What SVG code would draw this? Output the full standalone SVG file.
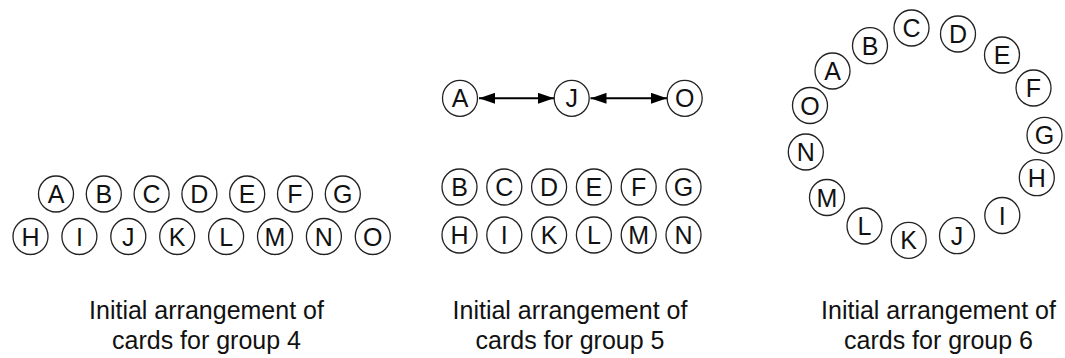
<svg xmlns="http://www.w3.org/2000/svg" width="1065" height="358" viewBox="0 0 1065 358">
<style>
.card ellipse{fill:#fff;stroke:#222;stroke-width:1.3}
.card text{font-family:"Liberation Sans",Arial,sans-serif;font-size:25px;fill:#111;text-anchor:middle}
.cap{font-family:"Liberation Sans",Arial,sans-serif;font-size:25px;fill:#111;text-anchor:middle}
.conn{stroke:#000;stroke-width:2;fill:none}
</style>
<defs>
<marker id="ah" viewBox="0 0 16 11" refX="16" refY="5.5" markerWidth="16" markerHeight="11" markerUnits="userSpaceOnUse" orient="auto-start-reverse">
<path d="M0,0 L16,5.5 L0,11 Z" fill="#000"/>
</marker>
</defs>
<rect width="1065" height="358" fill="#fff"/>

<!-- group 4 -->
<g id="g4">
<g id="g4-A" class="card" transform="translate(56,194)"><ellipse rx="17.5" ry="18"/><text y="9">A</text></g>
<g id="g4-B" class="card" transform="translate(103.8,194)"><ellipse rx="17.5" ry="18"/><text y="9">B</text></g>
<g id="g4-C" class="card" transform="translate(151.6,194)"><ellipse rx="17.5" ry="18"/><text y="9">C</text></g>
<g id="g4-D" class="card" transform="translate(199.4,194)"><ellipse rx="17.5" ry="18"/><text y="9">D</text></g>
<g id="g4-E" class="card" transform="translate(247.2,194)"><ellipse rx="17.5" ry="18"/><text y="9">E</text></g>
<g id="g4-F" class="card" transform="translate(295,194)"><ellipse rx="17.5" ry="18"/><text y="9">F</text></g>
<g id="g4-G" class="card" transform="translate(342.8,194)"><ellipse rx="17.5" ry="18"/><text y="9">G</text></g>
<g id="g4-H" class="card" transform="translate(30.5,236.5)"><ellipse rx="17.5" ry="18"/><text y="9">H</text></g>
<g id="g4-I" class="card" transform="translate(79.4,236.5)"><ellipse rx="17.5" ry="18"/><text y="9">I</text></g>
<g id="g4-J" class="card" transform="translate(128.3,236.5)"><ellipse rx="17.5" ry="18"/><text y="9">J</text></g>
<g id="g4-K" class="card" transform="translate(177.2,236.5)"><ellipse rx="17.5" ry="18"/><text y="9">K</text></g>
<g id="g4-L" class="card" transform="translate(226.1,236.5)"><ellipse rx="17.5" ry="18"/><text y="9">L</text></g>
<g id="g4-M" class="card" transform="translate(275,236.5)"><ellipse rx="17.5" ry="18"/><text y="9">M</text></g>
<g id="g4-N" class="card" transform="translate(323.9,236.5)"><ellipse rx="17.5" ry="18"/><text y="9">N</text></g>
<g id="g4-O" class="card" transform="translate(372.8,236.5)"><ellipse rx="17.5" ry="18"/><text y="9">O</text></g>
</g>

<!-- group 5 -->
<g id="g5">
<g id="g5-A" class="card" transform="translate(460,98.3)"><ellipse rx="17.5" ry="18"/><text y="9">A</text></g>
<g id="g5-J" class="card" transform="translate(571.7,98.3)"><ellipse rx="17.5" ry="18"/><text y="9">J</text></g>
<g id="g5-O" class="card" transform="translate(684.7,98.3)"><ellipse rx="17.5" ry="18"/><text y="9">O</text></g>
<g id="g5-B" class="card" transform="translate(459.5,187)"><ellipse rx="17.5" ry="18"/><text y="9">B</text></g>
<g id="g5-C" class="card" transform="translate(504.3,187)"><ellipse rx="17.5" ry="18"/><text y="9">C</text></g>
<g id="g5-D" class="card" transform="translate(549.1,187)"><ellipse rx="17.5" ry="18"/><text y="9">D</text></g>
<g id="g5-E" class="card" transform="translate(593.9,187)"><ellipse rx="17.5" ry="18"/><text y="9">E</text></g>
<g id="g5-F" class="card" transform="translate(638.7,187)"><ellipse rx="17.5" ry="18"/><text y="9">F</text></g>
<g id="g5-G" class="card" transform="translate(683.5,187)"><ellipse rx="17.5" ry="18"/><text y="9">G</text></g>
<g id="g5-H" class="card" transform="translate(459.5,235)"><ellipse rx="17.5" ry="18"/><text y="9">H</text></g>
<g id="g5-I" class="card" transform="translate(504.3,235)"><ellipse rx="17.5" ry="18"/><text y="9">I</text></g>
<g id="g5-K" class="card" transform="translate(549.1,235)"><ellipse rx="17.5" ry="18"/><text y="9">K</text></g>
<g id="g5-L" class="card" transform="translate(593.9,235)"><ellipse rx="17.5" ry="18"/><text y="9">L</text></g>
<g id="g5-M" class="card" transform="translate(638.7,235)"><ellipse rx="17.5" ry="18"/><text y="9">M</text></g>
<g id="g5-N" class="card" transform="translate(683.5,235)"><ellipse rx="17.5" ry="18"/><text y="9">N</text></g>
</g>

<!-- group 6 -->
<g id="g6">
<g id="g6-A" class="card" transform="translate(832.5,71)"><ellipse rx="17.5" ry="18"/><text y="9">A</text></g>
<g id="g6-B" class="card" transform="translate(870,45.7)"><ellipse rx="17.5" ry="18"/><text y="9">B</text></g>
<g id="g6-C" class="card" transform="translate(911.5,28)"><ellipse rx="17.5" ry="18"/><text y="9">C</text></g>
<g id="g6-D" class="card" transform="translate(958,34)"><ellipse rx="17.5" ry="18"/><text y="9">D</text></g>
<g id="g6-E" class="card" transform="translate(1002,55)"><ellipse rx="17.5" ry="18"/><text y="9">E</text></g>
<g id="g6-F" class="card" transform="translate(1033.5,88)"><ellipse rx="17.5" ry="18"/><text y="9">F</text></g>
<g id="g6-G" class="card" transform="translate(1044.5,135.3)"><ellipse rx="17.5" ry="18"/><text y="9">G</text></g>
<g id="g6-H" class="card" transform="translate(1036.8,177.7)"><ellipse rx="17.5" ry="18"/><text y="9">H</text></g>
<g id="g6-I" class="card" transform="translate(1002.3,215.5)"><ellipse rx="17.5" ry="18"/><text y="9">I</text></g>
<g id="g6-J" class="card" transform="translate(957,235.7)"><ellipse rx="17.5" ry="18"/><text y="9">J</text></g>
<g id="g6-K" class="card" transform="translate(908.7,240.3)"><ellipse rx="17.5" ry="18"/><text y="9">K</text></g>
<g id="g6-L" class="card" transform="translate(864.5,226)"><ellipse rx="17.5" ry="18"/><text y="9">L</text></g>
<g id="g6-M" class="card" transform="translate(827,197.5)"><ellipse rx="17.5" ry="18"/><text y="9">M</text></g>
<g id="g6-N" class="card" transform="translate(805.8,152)"><ellipse rx="17.5" ry="18"/><text y="9">N</text></g>
<g id="g6-O" class="card" transform="translate(810,105.5)"><ellipse rx="17.5" ry="18"/><text y="9">O</text></g>
</g>

<!-- connectors -->
<g id="connectors">
<line class="conn" x1="479" y1="98.3" x2="554" y2="98.3" marker-start="url(#ah)" marker-end="url(#ah)"/>
<line class="conn" x1="590.5" y1="98.3" x2="667" y2="98.3" marker-start="url(#ah)" marker-end="url(#ah)"/>
</g>

<!-- captions -->
<g id="captions">
<text class="cap" x="206.5" y="319">Initial arrangement of</text>
<text class="cap" x="206.5" y="349">cards for group 4</text>
<text class="cap" x="570" y="319">Initial arrangement of</text>
<text class="cap" x="570" y="349">cards for group 5</text>
<text class="cap" x="938.5" y="319">Initial arrangement of</text>
<text class="cap" x="938.5" y="349">cards for group 6</text>
</g>
</svg>
